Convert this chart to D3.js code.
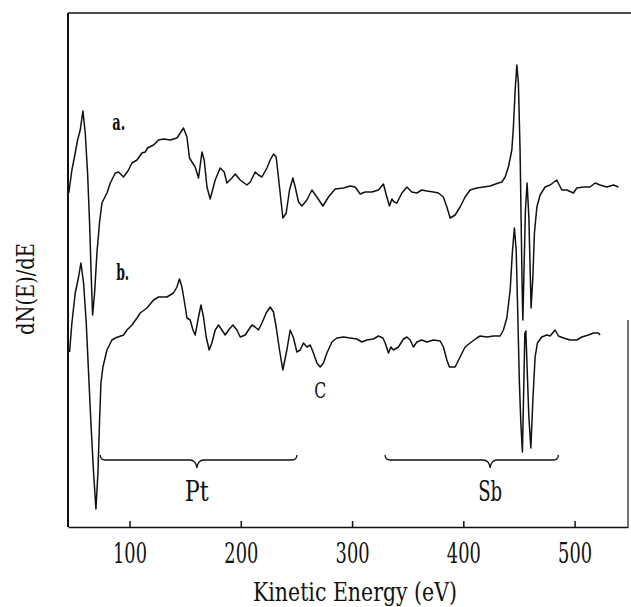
<!DOCTYPE html>
<html>
<head>
<meta charset="utf-8">
<script src="https://cdn.jsdelivr.net/npm/d3@7"></script>
<style>
  html, body { margin: 0; padding: 0; background: #fff; }
  svg { display: block; }
  svg text { font-family: "DejaVu Serif", "Liberation Serif", serif; fill: #111; }
</style>
</head>
<body>
<script>
const width = 631, height = 607;
const margin = {top: 13, right: 3, bottom: 80, left: 68};
const serif = '"DejaVu Serif", "Liberation Serif", serif';

// kinetic energy (eV), dN(E)/dE (arb. units)
const spectrumA = [
  [45.4,66.8],[48.2,71.4],[51.2,74.8],[53.3,77.4],[55.7,79.4],[58.1,83.2],[60.2,78.8],[62.3,70.8],
  [64.1,60.8],[65.6,50.0],[66.8,42.4],[68.6,46.8],[70.7,54.8],[73.0,60.8],[75.2,64.8],[79.7,66.8],
  [82.7,68.8],[87.2,70.8],[90.1,71.0],[94.6,70.0],[99.1,71.4],[102.2,72.8],[106.7,73.4],[111.1,74.8],
  [114.1,75.0],[116.2,75.8],[121.6,76.4],[126.1,77.4],[130.6,77.6],[136.6,77.4],[142.6,77.8],[145.6,78.8],
  [148.5,79.8],[151.6,78.0],[153.9,73.8],[156.1,73.0],[159.0,72.0],[162.0,69.8],[165.1,75.0],[167.1,73.4],
  [169.6,68.0],[172.5,65.6],[177.0,69.4],[181.5,71.8],[185.1,71.0],[187.5,68.8],[192.0,69.8],[195.0,70.6],
  [199.5,69.4],[205.5,68.4],[208.5,69.0],[212.9,71.0],[215.9,70.4],[219.0,70.0],[223.5,71.8],[226.4,73.4],
  [229.4,74.6],[231.8,74.0],[234.8,68.0],[237.8,61.8],[240.8,62.8],[243.8,67.4],[246.8,69.8],[248.9,68.0],
  [251.9,65.0],[254.9,64.2],[259.4,65.4],[263.9,67.4],[268.4,66.0],[273.8,64.2],[278.8,66.0],[284.8,67.6],
  [292.3,67.8],[298.3,68.2],[302.8,68.0],[307.3,66.6],[311.8,67.0],[317.8,67.0],[323.7,67.4],[328.2,68.6],
  [331.3,66.0],[333.6,64.2],[335.8,65.6],[337.8,65.0],[340.3,64.8],[344.8,66.8],[349.3,68.0],[353.7,67.0],
  [358.2,66.8],[362.7,67.4],[367.2,67.2],[373.2,67.0],[377.6,66.8],[382.1,66.0],[385.2,64.0],[388.2,61.8],
  [392.6,62.4],[397.1,64.0],[401.6,66.0],[406.1,67.4],[412.1,67.8],[418.1,68.0],[424.1,68.2],[431.5,68.8],
  [434.6,69.0],[437.6,70.0],[440.5,72.0],[443.6,75.4],[445.0,80.0],[446.6,87.4],[448.1,92.4],[449.5,88.8],
  [451.0,75.4],[451.9,62.0],[452.8,48.8],[453.5,41.4],[454.6,52.0],[455.8,63.4],[457.3,68.8],[458.9,62.0],
  [460.0,52.0],[460.9,43.8],[462.5,50.0],[463.9,58.8],[466.1,64.0],[469.0,66.4],[473.5,68.0],[478.0,68.4],
  [484.0,69.4],[488.5,67.4],[493.0,67.4],[498.9,66.8],[502.0,67.8],[507.9,68.0],[513.9,68.0],[518.4,68.8],
  [522.9,68.4],[529.0,68.0],[534.9,68.4],[539.4,68.0]
];

const spectrumB = [
  [46.1,35.0],[48.2,40.8],[51.2,46.8],[54.2,50.0],[56.3,52.8],[58.7,48.8],[61.1,40.8],[63.2,30.8],
  [65.3,20.8],[67.7,10.8],[69.8,3.6],[71.6,10.8],[73.0,20.8],[74.3,28.8],[76.1,32.0],[79.7,35.4],
  [84.2,37.4],[87.2,37.8],[94.6,38.4],[97.7,39.4],[102.2,40.4],[106.7,41.8],[109.6,42.8],[115.6,43.8],
  [121.6,45.4],[126.1,46.0],[133.6,46.0],[139.5,46.8],[142.6,48.0],[144.9,49.6],[147.1,48.0],[150.1,44.0],
  [151.6,41.8],[154.5,41.4],[157.0,39.4],[159.0,38.4],[162.0,42.0],[164.2,44.4],[166.5,42.0],[168.9,38.0],
  [171.6,35.4],[174.0,36.8],[177.0,39.4],[180.0,40.4],[183.0,39.4],[186.0,38.4],[189.0,39.4],[192.9,40.4],
  [196.5,39.4],[199.5,38.0],[204.0,38.4],[206.9,39.4],[210.0,40.4],[212.9,40.0],[215.9,39.4],[219.0,40.8],
  [222.8,42.8],[226.4,44.0],[229.4,43.0],[231.8,40.0],[234.8,35.4],[237.8,31.4],[241.4,35.4],[244.4,39.4],
  [247.4,37.8],[250.4,35.0],[253.4,35.4],[256.3,36.8],[259.4,36.0],[262.4,36.4],[265.3,34.8],[268.4,32.8],
  [271.4,32.0],[274.3,32.8],[277.4,34.8],[281.9,37.0],[286.4,37.8],[292.3,38.0],[298.3,37.8],[304.3,37.6],
  [308.8,37.0],[313.3,37.4],[319.2,37.6],[323.7,38.2],[327.7,37.8],[329.8,36.8],[332.7,34.8],[334.9,36.0],
  [337.2,35.4],[341.7,36.0],[346.2,37.6],[349.3,38.0],[352.2,37.4],[355.2,36.0],[358.2,37.0],[362.7,37.4],
  [367.2,37.0],[373.2,37.4],[379.2,37.2],[382.1,36.0],[385.2,33.4],[387.5,32.0],[392.6,32.0],[397.1,34.0],
  [401.6,36.0],[406.1,36.8],[412.1,37.8],[415.1,38.2],[421.1,38.0],[427.1,38.2],[433.1,38.2],[436.0,39.4],
  [439.1,41.8],[442.1,47.4],[444.1,55.0],[445.9,59.8],[447.5,55.4],[449.0,42.0],[450.4,28.8],[451.7,20.8],
  [453.1,15.0],[454.4,28.8],[455.3,38.8],[456.2,39.2],[457.3,32.0],[458.9,22.0],[460.7,15.8],[462.5,25.4],
  [464.5,34.0],[466.6,36.8],[470.5,38.0],[475.0,38.4],[478.0,38.2],[482.5,39.4],[485.5,38.2],[490.0,37.8],
  [496.0,37.4],[502.0,37.4],[506.5,38.0],[512.4,38.4],[516.9,38.8],[521.4,38.8],[522.9,38.4]
];

const xTicks = [100, 200, 300, 400, 500];
const seriesLabels = [{text: "a.", e: 84.5, v: 79.4}, {text: "b.", e: 88.0, v: 49.4}];
const bands = [{label: "Pt", from: 73.7, to: 250.4, mid: 160.5}, {label: "Sb", from: 329.7, to: 485.4, mid: 424.1}];
const peakLabels = [{text: "C", e: 271.5, v: 25.8}];

const x = d3.scaleLinear().domain([44.7, 548]).range([margin.left, width - margin.right]);
const y = d3.scaleLinear().domain([0, 102.8]).range([height - margin.bottom, margin.top]);

const svg = d3.select("body").append("svg")
    .attr("width", width)
    .attr("height", height);

// frame (left + top + partial right, as in the scan)
const x0 = margin.left, x1 = width - margin.right, yTop = margin.top, yBot = height - margin.bottom;
svg.append("line").attr("x1", x0).attr("x2", x0).attr("y1", yTop).attr("y2", yBot)
    .attr("stroke", "#111").attr("stroke-width", 2);
svg.append("line").attr("x1", x0).attr("x2", width).attr("y1", yTop).attr("y2", yTop)
    .attr("stroke", "#111").attr("stroke-width", 1.5);
svg.append("line").attr("x1", x1).attr("x2", x1).attr("y1", 320).attr("y2", yBot)
    .attr("stroke", "#111").attr("stroke-width", 1.2);

// bottom axis with inward ticks
const xAxis = svg.append("g")
    .attr("transform", `translate(0,${yBot})`)
    .call(d3.axisBottom(x).tickValues(xTicks).tickSizeInner(-6).tickSizeOuter(0).tickFormat(d3.format("d")));
xAxis.attr("font-family", null);
xAxis.select(".domain").attr("stroke", "#111").attr("stroke-width", 1.6);
xAxis.selectAll(".tick line").attr("stroke", "#111").attr("stroke-width", 1.5);
xAxis.selectAll(".tick text")
    .attr("y", 36).attr("dy", null)
    .attr("fill", "#111")
    .style("font-family", serif)
    .style("font-size", "28px")
    .attr("textLength", 34).attr("lengthAdjust", "spacingAndGlyphs");

svg.append("text")
    .attr("x", 355).attr("y", 601)
    .attr("text-anchor", "middle")
    .style("font-family", serif)
    .style("font-size", "26px")
    .attr("textLength", 204).attr("lengthAdjust", "spacingAndGlyphs")
    .text("Kinetic Energy (eV)");

svg.append("text")
    .attr("transform", "translate(34,289) rotate(-90)")
    .attr("text-anchor", "middle")
    .style("font-family", serif)
    .style("font-size", "24px")
    .attr("textLength", 92).attr("lengthAdjust", "spacingAndGlyphs")
    .text("dN(E)/dE");

// spectra
const line = d3.line().x(d => x(d[0])).y(d => y(d[1]));
svg.selectAll("path.spec")
  .data([spectrumA, spectrumB])
  .join("path")
    .attr("class", "spec")
    .attr("fill", "none")
    .attr("stroke", "#111")
    .attr("stroke-width", 1.5)
    .attr("stroke-linejoin", "round")
    .attr("d", line);

svg.selectAll("text.series")
  .data(seriesLabels)
  .join("text")
    .attr("class", "series")
    .attr("x", d => x(d.e)).attr("y", d => y(d.v))
    .style("font-family", serif)
    .style("font-size", "22px").style("font-weight", "bold")
    .attr("textLength", 13).attr("lengthAdjust", "spacingAndGlyphs")
    .text(d => d.text);

svg.selectAll("text.peak")
  .data(peakLabels)
  .join("text")
    .attr("class", "peak")
    .attr("x", d => x(d.e)).attr("y", d => y(d.v))
    .attr("text-anchor", "middle")
    .style("font-family", serif)
    .style("font-size", "23px")
    .attr("textLength", 12).attr("lengthAdjust", "spacingAndGlyphs")
    .text(d => d.text);

// element brackets
const by = 460;
const brace = d => {
  const a = x(d.from), b = x(d.to), m = x(d.mid);
  return `M${a},${by - 5} Q${a},${by} ${a + 5},${by} L${m - 7},${by} Q${m - 1},${by} ${m},${by + 8}` +
         ` Q${m + 1},${by} ${m + 7},${by} L${b - 5},${by} Q${b},${by} ${b},${by - 5}`;
};
const band = svg.selectAll("g.band").data(bands).join("g").attr("class", "band");
band.append("path")
    .attr("d", brace)
    .attr("fill", "none").attr("stroke", "#111").attr("stroke-width", 1.3);
band.append("text")
    .attr("x", d => x(d.mid)).attr("y", 501)
    .attr("text-anchor", "middle")
    .style("font-family", serif)
    .style("font-size", "27px")
    .attr("textLength", 24).attr("lengthAdjust", "spacingAndGlyphs")
    .text(d => d.label);
</script>
</body>
</html>
